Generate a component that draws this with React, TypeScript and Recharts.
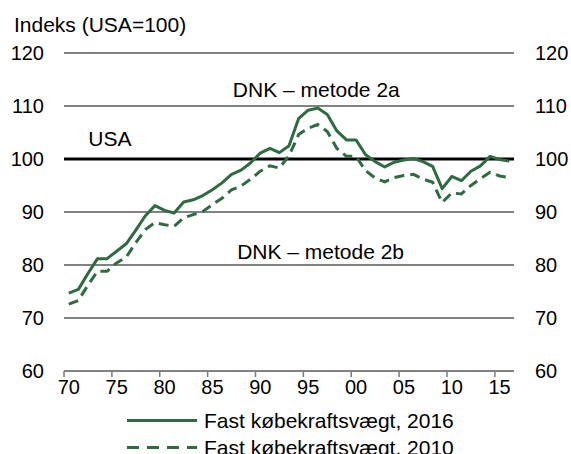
import { LineChart, Line, XAxis, YAxis, CartesianGrid, ReferenceLine, ReferenceDot, Legend } from 'recharts';

const years = [
  1970, 1971, 1972, 1973, 1974, 1975, 1976, 1977, 1978, 1979,
  1980, 1981, 1982, 1983, 1984, 1985, 1986, 1987, 1988, 1989,
  1990, 1991, 1992, 1993, 1994, 1995, 1996, 1997, 1998, 1999,
  2000, 2001, 2002, 2003, 2004, 2005, 2006, 2007, 2008, 2009,
  2010, 2011, 2012, 2013, 2014, 2015, 2016,
];

// Fast købekraftsvægt, 2016 (metode 2a)
const weights2016 = [
  74.7, 75.4, 78.4, 81.2, 81.2, 82.6, 84.0, 86.6, 89.3, 91.2,
  90.3, 89.8, 91.9, 92.3, 93.1, 94.2, 95.5, 97.1, 97.9, 99.3,
  101.1, 102.0, 101.2, 102.5, 107.6, 109.2, 109.6, 108.4, 105.3, 103.6,
  103.6, 100.8, 99.5, 98.5, 99.4, 99.8, 100.1, 99.5, 98.6, 94.4,
  96.7, 95.9, 97.7, 98.7, 100.5, 99.9, 99.6,
];

// Fast købekraftsvægt, 2010 (metode 2b)
const weights2010 = [
  72.6, 73.3, 76.2, 78.8, 78.8, 80.4, 81.5, 84.2, 86.7, 88.0,
  87.6, 87.3, 88.9, 89.5, 90.1, 91.4, 92.6, 94.2, 94.9, 96.2,
  97.7, 98.7, 98.3, 100.6, 104.6, 105.8, 106.5, 105.2, 102.0, 100.5,
  100.5, 97.8, 96.4, 95.7, 96.5, 96.9, 97.1, 96.2, 95.6, 91.8,
  93.6, 93.4, 95.0, 96.3, 97.5, 96.8, 96.5,
];

const yTicks = [60, 70, 80, 90, 100, 110, 120];
const gridLevels = [60, 70, 80, 90, 110, 120];
// tick marks sit between the years, labels under the year itself
const xMarkTicks = [1969.5, 1974.5, 1979.5, 1984.5, 1989.5, 1994.5, 1999.5, 2004.5, 2009.5, 2014.5];
const xDomain = [1969.5, 2016.5];

const seriesNames = ['Fast købekraftsvægt, 2016', 'Fast købekraftsvægt, 2010'];
const seriesDash = ['', '12 8'];

// annotation texts and where they sit (year, index value)
const notes = [
  { text: 'USA', year: 1974.3, value: 103.9 },
  { text: 'DNK – metode 2a', year: 1995.85, value: 113.1 },
  { text: 'DNK – metode 2b', year: 1996.3, value: 82.6 },
];

const W = 571;
const H = 454;
const leftW = 64;
const rightW = 57;
const halfYear = (W - leftW - rightW) / (xDomain[1] - xDomain[0]) / 2;

const green = '#2e6b40';
const gridGray = '#7a7a7a';
const font = '"Liberation Sans", Arial, sans-serif';

const data = years.map((year, i) => ({
  year,
  w2016: weights2016[i],
  w2010: weights2010[i],
}));

function YearTick(props: any) {
  const { x, y, payload } = props;
  const yr = Math.round(payload.value + 0.5);
  return (
    <g>
      <line x1={x} x2={x} y1={y - 8} y2={y - 2} stroke={gridGray} strokeWidth={1.5} />
      <text x={x + halfYear} y={y} dy={15} textAnchor="middle" fill="#000" fontSize={20} fontFamily={font}>
        {String(yr % 100).padStart(2, '0')}
      </text>
    </g>
  );
}

function LegendBox() {
  return (
    <div style={{ height: 52, position: 'relative', fontFamily: font, fontSize: 21, color: '#000' }}>
      {seriesNames.map((name, i) => (
        <div
          key={name}
          style={{ position: 'absolute', left: 127, top: 5 + i * 27, height: 27, display: 'flex', alignItems: 'center', whiteSpace: 'nowrap' }}
        >
          <svg width={70} height={27}>
            <line x1={0} x2={70} y1={13.5} y2={13.5} stroke={green} strokeWidth={3} strokeDasharray={seriesDash[i] || undefined} />
          </svg>
          <span style={{ marginLeft: 7, lineHeight: '27px' }}>{name}</span>
        </div>
      ))}
    </div>
  );
}

export default function App() {
  return (
    <div style={{ position: 'absolute', left: 0, top: 0, width: W, height: H, overflow: 'hidden', fontFamily: font, background: '#fff' }}>
      <div style={{ position: 'absolute', left: 14, top: 14, fontSize: 21, lineHeight: '21px', color: '#000', whiteSpace: 'nowrap' }}>
        Indeks (USA=100)
      </div>
      <LineChart width={W} height={H} data={data} margin={{ top: 53, right: 0, bottom: 0, left: 0 }}>
        <CartesianGrid vertical={false} horizontalValues={yTicks} stroke={gridGray} strokeWidth={1.5} />
        <XAxis
          dataKey="year"
          type="number"
          domain={xDomain}
          ticks={xMarkTicks}
          height={31}
          interval={0}
          tickSize={6}
          tickMargin={2}
          tick={<YearTick />}
          tickLine={false}
          axisLine={false}
        />
        <YAxis
          orientation="left"
          domain={[60, 120]}
          ticks={yTicks}
          width={leftW}
          interval={0}
          axisLine={false}
          tickLine={false}
          tickSize={0}
          tickMargin={20}
          tick={{ fill: '#000', fontSize: 20, fontFamily: font }}
        />
        <YAxis
          yAxisId="right"
          orientation="right"
          domain={[60, 120]}
          ticks={yTicks}
          width={rightW}
          interval={0}
          axisLine={false}
          tickLine={false}
          tickSize={0}
          tickMargin={21}
          tick={{ fill: '#000', fontSize: 20, fontFamily: font }}
        />
        {gridLevels.map((lvl) => (
          <ReferenceLine key={'g' + lvl} y={lvl} stroke={gridGray} strokeWidth={1.5} strokeOpacity={1} />
        ))}
        <ReferenceLine y={100} stroke="#000" strokeWidth={3} />
        {/* invisible copy so the right axis gets ticks */}
        <Line
          yAxisId="right"
          dataKey="w2016"
          stroke="none"
          dot={false}
          legendType="none"
          isAnimationActive={false}
        />
        <Line
          dataKey="w2016"
          name={seriesNames[0]}
          stroke={green}
          strokeWidth={3}
          dot={false}
          strokeLinejoin="round"
          isAnimationActive={false}
        />
        <Line
          dataKey="w2010"
          name={seriesNames[1]}
          stroke={green}
          strokeWidth={3}
          strokeDasharray="10 6"
          dot={false}
          isAnimationActive={false}
        />
        {notes.map((n) => (
          <ReferenceDot
            key={n.text}
            x={n.year}
            y={n.value}
            r={1}
            fill="none"
            stroke="none"
            label={{ value: n.text, position: 'center', fill: '#000', fontSize: 21, fontFamily: font }}
          />
        ))}
        <Legend verticalAlign="bottom" height={52} wrapperStyle={{ left: 0, width: W }} content={() => <LegendBox />} />
      </LineChart>
    </div>
  );
}
